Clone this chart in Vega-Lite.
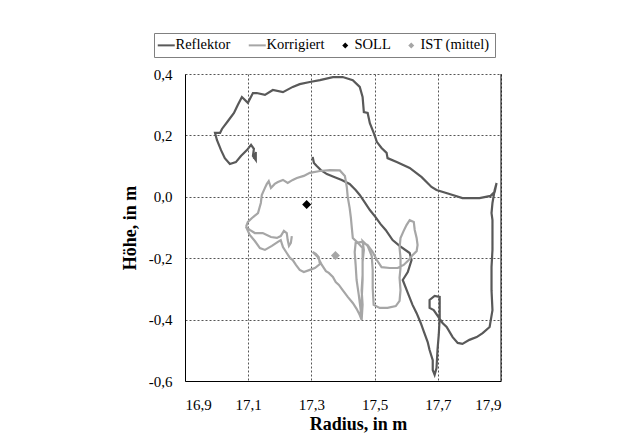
{
  "$schema": "https://vega.github.io/schema/vega-lite/v6.json",
  "width": 316,
  "height": 307,
  "autosize": {"type": "none"},
  "padding": {"left": 185, "top": 74, "right": 123, "bottom": 58},
  "background": "white",
  "config": {"font": "Liberation Serif, Times New Roman, serif", "view": {"stroke": null}},
  "data": {"values": [
    {"s":"Reflektor","i":1,"r":17.304,"h":0.130},{"s":"Reflektor","i":2,"r":17.308,"h":0.110},{"s":"Reflektor","i":3,"r":17.317,"h":0.100},{"s":"Reflektor","i":4,"r":17.330,"h":0.087},{"s":"Reflektor","i":5,"r":17.349,"h":0.074},{"s":"Reflektor","i":6,"r":17.374,"h":0.064},{"s":"Reflektor","i":7,"r":17.396,"h":0.055},{"s":"Reflektor","i":8,"r":17.421,"h":0.042},{"s":"Reflektor","i":9,"r":17.440,"h":0.022},{"s":"Reflektor","i":10,"r":17.453,"h":0.006},
    {"s":"Reflektor","i":11,"r":17.472,"h":-0.023},{"s":"Reflektor","i":12,"r":17.485,"h":-0.043},{"s":"Reflektor","i":13,"r":17.503,"h":-0.066},{"s":"Reflektor","i":14,"r":17.519,"h":-0.089},{"s":"Reflektor","i":15,"r":17.535,"h":-0.108},{"s":"Reflektor","i":16,"r":17.557,"h":-0.141},{"s":"Reflektor","i":17,"r":17.579,"h":-0.160},{"s":"Reflektor","i":18,"r":17.611,"h":-0.183},{"s":"Reflektor","i":19,"r":17.617,"h":-0.206},{"s":"Reflektor","i":20,"r":17.605,"h":-0.245},
    {"s":"Reflektor","i":21,"r":17.589,"h":-0.271},{"s":"Reflektor","i":22,"r":17.605,"h":-0.313},{"s":"Reflektor","i":23,"r":17.620,"h":-0.352},{"s":"Reflektor","i":24,"r":17.633,"h":-0.379},{"s":"Reflektor","i":25,"r":17.646,"h":-0.411},{"s":"Reflektor","i":26,"r":17.655,"h":-0.437},{"s":"Reflektor","i":27,"r":17.668,"h":-0.473},{"s":"Reflektor","i":28,"r":17.674,"h":-0.499},{"s":"Reflektor","i":29,"r":17.684,"h":-0.532},{"s":"Reflektor","i":30,"r":17.684,"h":-0.564},
    {"s":"Reflektor","i":31,"r":17.690,"h":-0.580},{"s":"Reflektor","i":32,"r":17.696,"h":-0.558},{"s":"Reflektor","i":33,"r":17.699,"h":-0.499},{"s":"Reflektor","i":34,"r":17.703,"h":-0.450},{"s":"Reflektor","i":35,"r":17.706,"h":-0.395},{"s":"Reflektor","i":36,"r":17.706,"h":-0.326},{"s":"Reflektor","i":37,"r":17.690,"h":-0.323},{"s":"Reflektor","i":38,"r":17.674,"h":-0.336},{"s":"Reflektor","i":39,"r":17.674,"h":-0.362},{"s":"Reflektor","i":40,"r":17.687,"h":-0.369},
    {"s":"Reflektor","i":41,"r":17.715,"h":-0.411},{"s":"Reflektor","i":42,"r":17.728,"h":-0.424},{"s":"Reflektor","i":43,"r":17.747,"h":-0.457},{"s":"Reflektor","i":44,"r":17.763,"h":-0.476},{"s":"Reflektor","i":45,"r":17.778,"h":-0.479},{"s":"Reflektor","i":46,"r":17.800,"h":-0.466},{"s":"Reflektor","i":47,"r":17.823,"h":-0.457},{"s":"Reflektor","i":48,"r":17.842,"h":-0.444},{"s":"Reflektor","i":49,"r":17.864,"h":-0.424},{"s":"Reflektor","i":50,"r":17.873,"h":-0.369},
    {"s":"Reflektor","i":51,"r":17.870,"h":-0.304},{"s":"Reflektor","i":52,"r":17.870,"h":-0.229},{"s":"Reflektor","i":53,"r":17.873,"h":-0.173},{"s":"Reflektor","i":54,"r":17.873,"h":-0.118},{"s":"Reflektor","i":55,"r":17.873,"h":-0.076},{"s":"Reflektor","i":56,"r":17.870,"h":-0.053},{"s":"Reflektor","i":57,"r":17.873,"h":-0.020},{"s":"Reflektor","i":58,"r":17.880,"h":0.022},{"s":"Reflektor","i":59,"r":17.886,"h":0.045},{"s":"Reflektor","i":60,"r":17.880,"h":0.016},
    {"s":"Reflektor","i":61,"r":17.867,"h":0.003},{"s":"Reflektor","i":62,"r":17.832,"h":-0.004},{"s":"Reflektor","i":63,"r":17.778,"h":-0.004},{"s":"Reflektor","i":64,"r":17.737,"h":0.009},{"s":"Reflektor","i":65,"r":17.696,"h":0.022},{"s":"Reflektor","i":66,"r":17.680,"h":0.032},{"s":"Reflektor","i":67,"r":17.649,"h":0.064},{"s":"Reflektor","i":68,"r":17.611,"h":0.094},{"s":"Reflektor","i":69,"r":17.570,"h":0.113},{"s":"Reflektor","i":70,"r":17.541,"h":0.126},
    {"s":"Reflektor","i":71,"r":17.538,"h":0.143},{"s":"Reflektor","i":72,"r":17.522,"h":0.159},{"s":"Reflektor","i":73,"r":17.507,"h":0.179},{"s":"Reflektor","i":74,"r":17.500,"h":0.201},{"s":"Reflektor","i":75,"r":17.485,"h":0.240},{"s":"Reflektor","i":76,"r":17.478,"h":0.273},{"s":"Reflektor","i":77,"r":17.466,"h":0.276},{"s":"Reflektor","i":78,"r":17.462,"h":0.325},{"s":"Reflektor","i":79,"r":17.453,"h":0.358},{"s":"Reflektor","i":80,"r":17.431,"h":0.380},
    {"s":"Reflektor","i":81,"r":17.399,"h":0.390},{"s":"Reflektor","i":82,"r":17.368,"h":0.390},{"s":"Reflektor","i":83,"r":17.327,"h":0.380},{"s":"Reflektor","i":84,"r":17.295,"h":0.374},{"s":"Reflektor","i":85,"r":17.263,"h":0.367},{"s":"Reflektor","i":86,"r":17.241,"h":0.358},{"s":"Reflektor","i":87,"r":17.210,"h":0.341},{"s":"Reflektor","i":88,"r":17.178,"h":0.348},{"s":"Reflektor","i":89,"r":17.153,"h":0.332},{"s":"Reflektor","i":90,"r":17.127,"h":0.338},
    {"s":"Reflektor","i":91,"r":17.115,"h":0.338},{"s":"Reflektor","i":92,"r":17.099,"h":0.306},{"s":"Reflektor","i":93,"r":17.080,"h":0.325},{"s":"Reflektor","i":94,"r":17.067,"h":0.299},{"s":"Reflektor","i":95,"r":17.055,"h":0.273},{"s":"Reflektor","i":96,"r":17.036,"h":0.247},{"s":"Reflektor","i":97,"r":17.017,"h":0.221},{"s":"Reflektor","i":98,"r":17.011,"h":0.208},{"s":"Reflektor","i":99,"r":16.995,"h":0.208},{"s":"Reflektor","i":100,"r":17.001,"h":0.185},
    {"s":"Reflektor","i":101,"r":17.014,"h":0.152},{"s":"Reflektor","i":102,"r":17.026,"h":0.126},{"s":"Reflektor","i":103,"r":17.042,"h":0.107},{"s":"Reflektor","i":104,"r":17.061,"h":0.113},{"s":"Reflektor","i":105,"r":17.077,"h":0.133},{"s":"Reflektor","i":106,"r":17.096,"h":0.152},{"s":"Reflektor","i":107,"r":17.109,"h":0.169},{"s":"Reflektor","i":108,"r":17.118,"h":0.156},{"s":"Reflektor","i":109,"r":17.115,"h":0.133},{"s":"Reflektor","i":110,"r":17.124,"h":0.120},
    {"s":"Reflektor","i":111,"r":17.124,"h":0.146},{"s":"Reflektor","i":112,"r":17.118,"h":0.123},
    {"s":"Korrigiert","i":1,"r":17.238,"h":-0.128},{"s":"Korrigiert","i":2,"r":17.235,"h":-0.150},{"s":"Korrigiert","i":3,"r":17.229,"h":-0.160},{"s":"Korrigiert","i":4,"r":17.225,"h":-0.141},{"s":"Korrigiert","i":5,"r":17.222,"h":-0.118},{"s":"Korrigiert","i":6,"r":17.213,"h":-0.111},{"s":"Korrigiert","i":7,"r":17.203,"h":-0.128},{"s":"Korrigiert","i":8,"r":17.191,"h":-0.134},{"s":"Korrigiert","i":9,"r":17.172,"h":-0.131},{"s":"Korrigiert","i":10,"r":17.146,"h":-0.118},
    {"s":"Korrigiert","i":11,"r":17.121,"h":-0.118},{"s":"Korrigiert","i":12,"r":17.105,"h":-0.108},{"s":"Korrigiert","i":13,"r":17.093,"h":-0.098},{"s":"Korrigiert","i":14,"r":17.105,"h":-0.124},{"s":"Korrigiert","i":15,"r":17.121,"h":-0.144},{"s":"Korrigiert","i":16,"r":17.137,"h":-0.167},{"s":"Korrigiert","i":17,"r":17.153,"h":-0.173},{"s":"Korrigiert","i":18,"r":17.175,"h":-0.160},{"s":"Korrigiert","i":19,"r":17.194,"h":-0.147},{"s":"Korrigiert","i":20,"r":17.203,"h":-0.141},
    {"s":"Korrigiert","i":21,"r":17.210,"h":-0.164},{"s":"Korrigiert","i":22,"r":17.222,"h":-0.183},{"s":"Korrigiert","i":23,"r":17.232,"h":-0.199},{"s":"Korrigiert","i":24,"r":17.241,"h":-0.206},{"s":"Korrigiert","i":25,"r":17.251,"h":-0.222},{"s":"Korrigiert","i":26,"r":17.263,"h":-0.238},{"s":"Korrigiert","i":27,"r":17.276,"h":-0.245},{"s":"Korrigiert","i":28,"r":17.295,"h":-0.238},{"s":"Korrigiert","i":29,"r":17.311,"h":-0.232},{"s":"Korrigiert","i":30,"r":17.327,"h":-0.219},
    {"s":"Korrigiert","i":31,"r":17.323,"h":-0.196},{"s":"Korrigiert","i":32,"r":17.314,"h":-0.186},{"s":"Korrigiert","i":33,"r":17.304,"h":-0.180},{"s":"Korrigiert","i":34,"r":17.320,"h":-0.196},{"s":"Korrigiert","i":35,"r":17.333,"h":-0.222},{"s":"Korrigiert","i":36,"r":17.346,"h":-0.242},{"s":"Korrigiert","i":37,"r":17.355,"h":-0.248},{"s":"Korrigiert","i":38,"r":17.368,"h":-0.261},{"s":"Korrigiert","i":39,"r":17.377,"h":-0.278},{"s":"Korrigiert","i":40,"r":17.387,"h":-0.287},
    {"s":"Korrigiert","i":41,"r":17.399,"h":-0.304},{"s":"Korrigiert","i":42,"r":17.415,"h":-0.326},{"s":"Korrigiert","i":43,"r":17.431,"h":-0.346},{"s":"Korrigiert","i":44,"r":17.443,"h":-0.365},{"s":"Korrigiert","i":45,"r":17.453,"h":-0.385},{"s":"Korrigiert","i":46,"r":17.459,"h":-0.401},{"s":"Korrigiert","i":47,"r":17.462,"h":-0.352},{"s":"Korrigiert","i":48,"r":17.459,"h":-0.304},{"s":"Korrigiert","i":49,"r":17.462,"h":-0.255},{"s":"Korrigiert","i":50,"r":17.462,"h":-0.212},
    {"s":"Korrigiert","i":51,"r":17.466,"h":-0.173},{"s":"Korrigiert","i":52,"r":17.462,"h":-0.144},{"s":"Korrigiert","i":53,"r":17.478,"h":-0.160},{"s":"Korrigiert","i":54,"r":17.491,"h":-0.193},{"s":"Korrigiert","i":55,"r":17.494,"h":-0.238},{"s":"Korrigiert","i":56,"r":17.494,"h":-0.297},{"s":"Korrigiert","i":57,"r":17.497,"h":-0.352},{"s":"Korrigiert","i":58,"r":17.516,"h":-0.362},{"s":"Korrigiert","i":59,"r":17.541,"h":-0.362},{"s":"Korrigiert","i":60,"r":17.567,"h":-0.356},
    {"s":"Korrigiert","i":61,"r":17.579,"h":-0.339},{"s":"Korrigiert","i":62,"r":17.582,"h":-0.304},{"s":"Korrigiert","i":63,"r":17.579,"h":-0.264},{"s":"Korrigiert","i":64,"r":17.582,"h":-0.232},{"s":"Korrigiert","i":65,"r":17.582,"h":-0.199},{"s":"Korrigiert","i":66,"r":17.579,"h":-0.167},{"s":"Korrigiert","i":67,"r":17.582,"h":-0.134},{"s":"Korrigiert","i":68,"r":17.592,"h":-0.111},{"s":"Korrigiert","i":69,"r":17.601,"h":-0.092},{"s":"Korrigiert","i":70,"r":17.611,"h":-0.076},
    {"s":"Korrigiert","i":71,"r":17.624,"h":-0.082},{"s":"Korrigiert","i":72,"r":17.627,"h":-0.108},{"s":"Korrigiert","i":73,"r":17.633,"h":-0.134},{"s":"Korrigiert","i":74,"r":17.636,"h":-0.157},{"s":"Korrigiert","i":75,"r":17.633,"h":-0.177},{"s":"Korrigiert","i":76,"r":17.620,"h":-0.190},{"s":"Korrigiert","i":77,"r":17.608,"h":-0.206},{"s":"Korrigiert","i":78,"r":17.592,"h":-0.222},{"s":"Korrigiert","i":79,"r":17.573,"h":-0.232},{"s":"Korrigiert","i":80,"r":17.548,"h":-0.232},
    {"s":"Korrigiert","i":81,"r":17.522,"h":-0.229},{"s":"Korrigiert","i":82,"r":17.507,"h":-0.206},{"s":"Korrigiert","i":83,"r":17.494,"h":-0.180},{"s":"Korrigiert","i":84,"r":17.478,"h":-0.157},{"s":"Korrigiert","i":85,"r":17.459,"h":-0.147},{"s":"Korrigiert","i":86,"r":17.440,"h":-0.150},{"s":"Korrigiert","i":87,"r":17.437,"h":-0.180},{"s":"Korrigiert","i":88,"r":17.440,"h":-0.222},{"s":"Korrigiert","i":89,"r":17.443,"h":-0.271},{"s":"Korrigiert","i":90,"r":17.450,"h":-0.320},
    {"s":"Korrigiert","i":91,"r":17.456,"h":-0.369},{"s":"Korrigiert","i":92,"r":17.456,"h":-0.392},{"s":"Korrigiert","i":93,"r":17.459,"h":-0.336},{"s":"Korrigiert","i":94,"r":17.462,"h":-0.271},{"s":"Korrigiert","i":95,"r":17.462,"h":-0.212},{"s":"Korrigiert","i":96,"r":17.462,"h":-0.167},{"s":"Korrigiert","i":97,"r":17.447,"h":-0.150},{"s":"Korrigiert","i":98,"r":17.431,"h":-0.134},{"s":"Korrigiert","i":99,"r":17.428,"h":-0.102},{"s":"Korrigiert","i":100,"r":17.425,"h":-0.069},
    {"s":"Korrigiert","i":101,"r":17.421,"h":-0.036},{"s":"Korrigiert","i":102,"r":17.415,"h":-0.001},{"s":"Korrigiert","i":103,"r":17.412,"h":0.032},{"s":"Korrigiert","i":104,"r":17.406,"h":0.068},{"s":"Korrigiert","i":105,"r":17.390,"h":0.086},{"s":"Korrigiert","i":106,"r":17.358,"h":0.087},{"s":"Korrigiert","i":107,"r":17.327,"h":0.084},{"s":"Korrigiert","i":108,"r":17.295,"h":0.078},{"s":"Korrigiert","i":109,"r":17.276,"h":0.068},{"s":"Korrigiert","i":110,"r":17.254,"h":0.061},
    {"s":"Korrigiert","i":111,"r":17.241,"h":0.055},{"s":"Korrigiert","i":112,"r":17.225,"h":0.045},{"s":"Korrigiert","i":113,"r":17.210,"h":0.055},{"s":"Korrigiert","i":114,"r":17.194,"h":0.048},{"s":"Korrigiert","i":115,"r":17.184,"h":0.042},{"s":"Korrigiert","i":116,"r":17.172,"h":0.029},{"s":"Korrigiert","i":117,"r":17.165,"h":0.051},{"s":"Korrigiert","i":118,"r":17.159,"h":0.042},{"s":"Korrigiert","i":119,"r":17.153,"h":0.029},{"s":"Korrigiert","i":120,"r":17.143,"h":0.006},
    {"s":"Korrigiert","i":121,"r":17.140,"h":-0.020},{"s":"Korrigiert","i":122,"r":17.131,"h":-0.053},{"s":"Korrigiert","i":123,"r":17.112,"h":-0.069},{"s":"Korrigiert","i":124,"r":17.099,"h":-0.082},{"s":"Korrigiert","i":125,"r":17.093,"h":-0.098},
    {"s":"SOLL","i":1,"r":17.285,"h":-0.025},
    {"s":"IST (mittel)","i":1,"r":17.376,"h":-0.191}
  ]},
  "encoding": {
    "x": {"field": "r", "type": "quantitative", "title": "Radius, in m",
      "scale": {"domain": [16.9, 17.9], "nice": false, "zero": false},
      "axis": {"values": [16.9, 17.1, 17.3, 17.5, 17.7, 17.9],
        "labelExpr": "replace(format(datum.value, '.1f'), '.', ',')",
        "grid": true, "gridDash": [2, 2], "gridColor": "#555555", "gridWidth": 1,
        "domainColor": "black", "domainWidth": 1, "ticks": false,
        "labelFont": "Liberation Serif, Times New Roman, serif", "labelFontSize": 15, "labelColor": "black", "labelPadding": 16,
        "titleFont": "Liberation Serif, Times New Roman, serif", "titleFontSize": 18, "titleFontWeight": "bold", "titleColor": "black",
        "titlePadding": 3, "titleX": 173, "titleAlign": "center"}},
    "y": {"field": "h", "type": "quantitative", "title": "Höhe, in m",
      "scale": {"domain": [-0.6, 0.4], "nice": false, "zero": false},
      "axis": {"values": [-0.6, -0.4, -0.2, 0, 0.2, 0.4],
        "labelExpr": "replace(replace(format(datum.value, '.1f'), '.', ','), '\u2212', '-')",
        "grid": true, "gridDash": [2, 2], "gridColor": "#555555", "gridWidth": 1,
        "domainColor": "black", "domainWidth": 1, "ticks": false,
        "labelFont": "Liberation Serif, Times New Roman, serif", "labelFontSize": 15, "labelColor": "black", "labelPadding": 13,
        "titleFont": "Liberation Serif, Times New Roman, serif", "titleFontSize": 18, "titleFontWeight": "bold", "titleColor": "black",
        "titlePadding": 9}},
    "color": {"field": "s", "type": "nominal",
      "scale": {"domain": ["Reflektor", "Korrigiert", "SOLL", "IST (mittel)"], "range": ["#595959", "#a6a6a6", "#000000", "#a6a6a6"]},
      "legend": {"title": null, "orient": "none", "legendX": -31, "legendY": -41, "direction": "horizontal",
        "strokeColor": "#808080", "padding": 5, "fillColor": "white",
        "labelFont": "Liberation Serif, Times New Roman, serif", "labelFontSize": 14.5, "labelColor": "black", "labelOffset": 2,
        "columnPadding": 13, "symbolSize": 289, "symbolStrokeWidth": 2,
        "encode": {"symbols": {"update": {
          "shape": {"signal": "datum.value == 'SOLL' || datum.value == 'IST (mittel)' ? 'diamond' : 'stroke'"},
          "size": {"signal": "datum.value == 'SOLL' || datum.value == 'IST (mittel)' ? 36 : 289"},
          "strokeWidth": {"signal": "datum.value == 'SOLL' || datum.value == 'IST (mittel)' ? 0 : 2"},
          "fill": {"signal": "scale('color', datum.value)"},
          "stroke": {"signal": "scale('color', datum.value)"}}}}}}
  },
  "layer": [
    {"transform": [{"filter": "datum.s == 'Reflektor' || datum.s == 'Korrigiert'"}],
     "mark": {"type": "line", "strokeWidth": 2.2, "interpolate": "linear"},
     "encoding": {"order": {"field": "i", "type": "quantitative"}}},
    {"transform": [{"filter": "datum.s == 'SOLL' || datum.s == 'IST (mittel)'"}],
     "mark": {"type": "point", "shape": "diamond", "filled": true, "size": 81, "opacity": 1}},
    {"data": {"values": [{"edge": 17.9}]},
     "mark": {"type": "rule", "color": "black", "strokeWidth": 1},
     "encoding": {"x": {"field": "edge", "type": "quantitative"}, "y": null, "color": {"value": "black"}}}
  ]
}
